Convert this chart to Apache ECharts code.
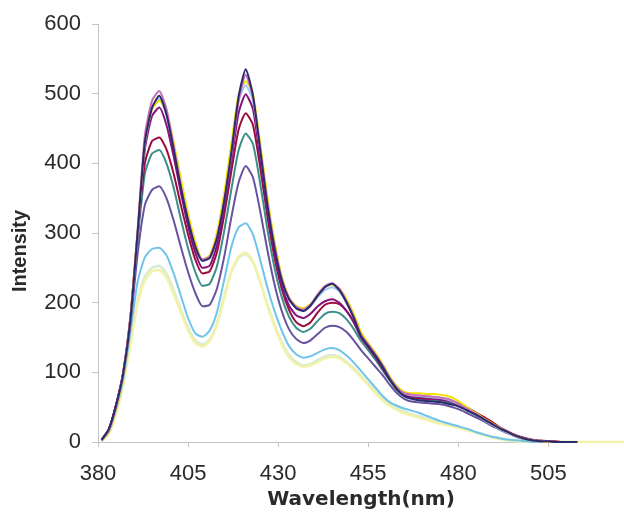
<!DOCTYPE html>
<html>
<head>
<meta charset="utf-8">
<script src="https://cdn.jsdelivr.net/npm/echarts@6/dist/echarts.min.js"></script>
<style>
  html, body { margin: 0; padding: 0; background: #ffffff; }
  #chart { width: 624px; height: 512px; }
</style>
</head>
<body>
<div id="chart"></div>
<script>
// Emission wavelengths (nm) shared by every spectrum
const wavelengths = [
  381, 383, 385, 387, 389, 391, 393, 395, 397, 399,
  401, 403, 405, 407, 409, 411, 413, 415, 417, 419,
  421, 423, 425, 427, 429, 431, 433, 435, 437, 439,
  441, 443, 445, 447, 449, 451, 453, 455, 457, 459,
  461, 463, 465, 467, 469, 471, 473, 475, 477, 479,
  481, 483, 485, 487, 489, 491, 493, 495, 497, 499,
  501, 503, 505, 507, 509, 511, 513, 526
];

// Fluorescence intensity of each spectrum
const navy = [
  3, 18, 52, 98, 175, 300, 430, 480, 497, 470,
  420, 365, 318, 280, 260, 264, 292, 345, 415, 495,
  535, 498, 420, 340, 278, 232, 205, 192, 188, 196,
  210, 222, 227, 218, 200, 178, 152, 138, 124, 108,
  90, 76, 66, 62, 60, 59, 58, 57, 55, 53,
  49, 44, 39, 33, 27, 21, 16, 11, 7, 4,
  2, 1, 1, 0, 0, 0, 0
];
const orchid = [
  2, 16, 50, 100, 180, 305, 440, 490, 504, 478,
  425, 368, 320, 282, 262, 266, 294, 345, 410, 488,
  527, 495, 422, 345, 282, 235, 207, 194, 190, 197,
  212, 224, 228, 220, 202, 180, 154, 140, 126, 110,
  92, 78, 70, 68, 67, 66, 65, 64, 62, 58,
  52, 46, 40, 33, 27, 21, 16, 11, 7, 4,
  2, 1, 1, 0, 0, 0, 0
];
const yellow = [
  2, 15, 48, 96, 178, 302, 432, 478, 490, 475,
  430, 378, 328, 288, 262, 268, 300, 356, 428, 498,
  518, 500, 430, 352, 288, 238, 208, 195, 192, 198,
  212, 223, 226, 220, 205, 184, 158, 142, 128, 112,
  94, 80, 72, 70, 70, 69, 69, 68, 66, 62,
  55, 48, 41, 34, 28, 22, 16, 11, 7, 4,
  2, 1, 0, 0, 0, 0, 0
];
const lightBlue = [
  2, 16, 50, 97, 176, 300, 428, 478, 493, 470,
  424, 370, 322, 284, 260, 264, 294, 350, 420, 490,
  512, 490, 420, 344, 282, 234, 206, 192, 189, 195,
  208, 218, 222, 216, 200, 180, 155, 140, 126, 110,
  92, 78, 70, 67, 66, 65, 64, 63, 61, 57,
  51, 45, 39, 32, 26, 20, 15, 10, 6, 4,
  2, 1, 0, 0, 0, 0, 0
];
const purple = [
  3, 18, 53, 100, 178, 298, 420, 468, 480, 455,
  410, 358, 310, 272, 250, 253, 282, 336, 402, 472,
  499, 478, 408, 332, 270, 224, 196, 182, 178, 184,
  195, 202, 205, 200, 188, 172, 150, 136, 122, 106,
  90, 76, 68, 65, 64, 63, 62, 61, 59, 56,
  51, 45, 39, 33, 27, 21, 16, 11, 7, 4,
  2, 1, 1, 0, 0, 0, 0
];
const darkRed = [
  3, 18, 53, 100, 180, 300, 400, 432, 437, 420,
  385, 340, 298, 262, 242, 245, 272, 325, 388, 448,
  472, 455, 395, 325, 265, 220, 190, 172, 166, 172,
  186, 197, 200, 198, 188, 172, 152, 137, 122, 106,
  90, 76, 68, 65, 63, 62, 62, 61, 60, 57,
  53, 48, 42, 36, 30, 23, 17, 12, 8, 5,
  3, 2, 1, 1, 0, 0, 0
];
const teal = [
  3, 18, 52, 98, 176, 290, 385, 414, 419, 400,
  365, 320, 278, 244, 224, 227, 252, 302, 362, 418,
  443, 428, 372, 306, 250, 208, 180, 164, 158, 163,
  174, 184, 187, 185, 176, 162, 145, 132, 118, 103,
  88, 74, 66, 63, 62, 61, 60, 59, 57, 54,
  49, 44, 38, 32, 26, 20, 15, 10, 6, 4,
  2, 1, 0, 0, 0, 0, 0
];
const slate = [
  3, 18, 52, 96, 170, 270, 340, 362, 367, 350,
  318, 280, 244, 214, 195, 197, 220, 265, 322, 372,
  396, 380, 332, 276, 226, 188, 162, 148, 142, 146,
  155, 164, 167, 165, 158, 146, 132, 120, 108, 96,
  82, 70, 62, 58, 57, 56, 55, 54, 52, 49,
  45, 40, 35, 30, 24, 19, 14, 10, 6, 4,
  2, 1, 0, 0, 0, 0, 0
];
const skyBlue = [
  2, 15, 46, 90, 158, 230, 265, 277, 279, 268,
  242, 210, 178, 156, 151, 160, 186, 232, 280, 308,
  314, 298, 262, 222, 188, 160, 138, 126, 121, 123,
  128, 133, 135, 132, 124, 114, 102, 90, 78, 66,
  57, 52, 48, 45, 42, 38, 34, 30, 27, 24,
  21, 18, 14, 11, 8, 6, 4, 3, 2, 1,
  0, 0, 0, 0, 0, 0, 0
];
const paleYellow = [
  1, 12, 40, 82, 140, 198, 232, 245, 247, 236,
  212, 186, 160, 142, 137, 145, 168, 206, 245, 266,
  272, 260, 230, 196, 166, 140, 122, 112, 108, 110,
  115, 120, 122, 120, 113, 104, 93, 82, 70, 60,
  52, 46, 41, 38, 35, 32, 29, 26, 24, 22,
  19, 16, 13, 10, 7, 5, 3, 2, 1, 1,
  0, 0, 0, 0, 0, 0, 0, 0
];
const paleCyan = [
  1, 12, 41, 84, 143, 202, 238, 250, 253, 242,
  218, 190, 164, 146, 140, 147, 170, 208, 244, 264,
  270, 258, 230, 198, 168, 143, 125, 115, 110, 112,
  118, 123, 125, 122, 115, 106, 95, 84, 73, 63,
  55, 49, 44, 40, 37, 34, 31, 28, 26, 23,
  20, 17, 14, 11, 8, 6, 4, 2, 1, 1,
  0, 0, 0, 0, 0, 0, 0
];

// Axis ticks
const xTicks = { min: 380, max: 526, step: 25 };
const yTicks = { min: 0, max: 600, step: 100 };

// Drawing order (first drawn lies underneath) and line colours
const spectra = [
  { values: paleCyan,   color: '#d6ecd6', width: 2.5 },
  { values: paleYellow, color: '#f3f2a6', width: 2.5 },
  { values: skyBlue,    color: '#6fc4ec', width: 2 },
  { values: slate,      color: '#6852a0', width: 2 },
  { values: teal,       color: '#3c8e89', width: 2 },
  { values: darkRed,    color: '#9c0c3e', width: 2 },
  { values: purple,     color: '#86127f', width: 2 },
  { values: lightBlue,  color: '#a3cdee', width: 2 },
  { values: yellow,     color: '#f0e300', width: 2 },
  { values: orchid,     color: '#c46fb8', width: 2 },
  { values: navy,       color: '#2b2a6b', width: 2 }
];

const axisGray = '#c4c4c4';
const textColor = '#2a2a2a';

const chart = echarts.init(document.getElementById('chart'), null, { renderer: 'canvas' });

chart.setOption({
  animation: false,
  backgroundColor: '#ffffff',
  grid: { left: 98, right: 0, top: 24, bottom: 70, containLabel: false, outerBoundsMode: 'none' },
  xAxis: {
    type: 'value',
    min: xTicks.min,
    max: xTicks.max,
    interval: xTicks.step,
    axisLine: { show: true, onZero: false, lineStyle: { color: axisGray, width: 1 } },
    axisTick: { show: true, length: 5, lineStyle: { color: axisGray } },
    axisLabel: {
      margin: 21, fontSize: 22, fontFamily: 'Liberation Sans', color: textColor,
      showMaxLabel: false
    },
    splitLine: { show: false },
    name: 'Wavelength(nm)',
    nameLocation: 'middle',
    nameGap: 39,
    nameTextStyle: { fontFamily: 'DejaVu Sans', fontWeight: 'bold', fontSize: 20, color: textColor }
  },
  yAxis: {
    type: 'value',
    min: yTicks.min,
    max: yTicks.max,
    interval: yTicks.step,
    axisLine: { show: true, lineStyle: { color: axisGray, width: 1 } },
    axisTick: { show: true, length: 6, lineStyle: { color: axisGray } },
    axisLabel: { margin: 17, fontSize: 22, fontFamily: 'Liberation Sans', color: textColor },
    splitLine: { show: false }
  },
  graphic: [{
    type: 'text',
    x: 20,
    y: 251,
    rotation: Math.PI / 2,
    style: {
      text: 'Intensity',
      font: 'bold 20px "Liberation Sans"',
      fill: textColor,
      align: 'center',
      verticalAlign: 'middle'
    }
  }],
  series: spectra.map(s => ({
    type: 'line',
    data: s.values.map((v, i) => [wavelengths[i], v]),
    symbol: 'none',
    smooth: 0.2,
    lineStyle: { color: s.color, width: s.width },
    itemStyle: { color: s.color },
    emphasis: { disabled: true }
  }))
});
</script>
</body>
</html>
